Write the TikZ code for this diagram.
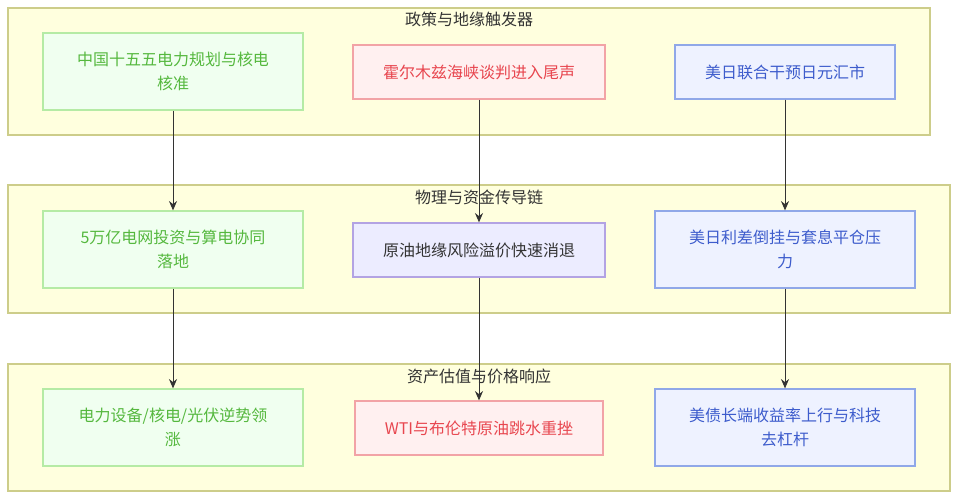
\documentclass[tikz,border=0pt]{standalone}
\usepackage{fontspec}
\setmainfont{Noto Sans CJK SC}
\usetikzlibrary{arrows.meta}
\definecolor{panelfill}{HTML}{FFFFDE}
\definecolor{paneldraw}{HTML}{CDCD8A}
\definecolor{grfill}{HTML}{F0FFF0}
\definecolor{grdraw}{HTML}{B5EBA5}
\definecolor{grtext}{HTML}{55B83E}
\definecolor{rdfill}{HTML}{FFF0F0}
\definecolor{rddraw}{HTML}{F2A3A6}
\definecolor{rdtext}{HTML}{E8464F}
\definecolor{blfill}{HTML}{EEF2FF}
\definecolor{bldraw}{HTML}{90A8E8}
\definecolor{bltext}{HTML}{3D5CCC}
\definecolor{pufill}{HTML}{ECECFF}
\definecolor{pudraw}{HTML}{B3A3E3}
\definecolor{edge}{HTML}{333333}
\tikzset{
    base/.style={
        rectangle,
        line width=0.9pt,
        align=center,
        font=\fontsize{12}{18}\selectfont,
    },
    % Subgraph panels
    panel/.style={
        rectangle,
        draw=paneldraw,
        fill=panelfill,
        line width=0.9pt,
        minimum width=706.5pt,
        minimum height=95.25pt,
    },
    paneltitle/.style={
        text=edge,
        font=\fontsize{12}{16}\selectfont,
    },
    % Power chain
    green/.style={
        base,
        draw=grdraw,
        fill=grfill,
        text=grtext,
        minimum width=195pt,
        minimum height=57.75pt,
    },
    % Oil chain
    red/.style={
        base,
        draw=rddraw,
        fill=rdfill,
        text=rdtext,
        minimum width=189pt,
        minimum height=40.5pt,
    },
    purple/.style={
        base,
        draw=pudraw,
        fill=pufill,
        text=edge,
        minimum width=189pt,
        minimum height=40.5pt,
    },
    % Yen/rates chain
    blue/.style={
        base,
        draw=bldraw,
        fill=blfill,
        text=bltext,
        minimum width=195pt,
        minimum height=57.75pt,
    },
    link/.style={
        draw=edge,
        line width=0.75pt,
        -{Stealth[length=7pt,width=6pt]},
    },
}

\begin{document}
\begin{tikzpicture}[x=0.75pt,y=-0.75pt]
    \useasboundingbox (0,0) rectangle (958,500);

    % Panels
    \node[panel,minimum width=691.5pt] (P1) at (469,71.5) {};
    \node[panel,minimum height=96pt] (P2) at (479,249) {};
    \node[panel] (P3) at (479,427.5) {};

    \node[paneltitle] (T1) at (469,19) {政策与地缘触发器};
    \node[paneltitle] (T2) at (479,197) {物理与资金传导链};
    \node[paneltitle] (T3) at (479,376) {资产估值与价格响应};

    % Triggers
    \node[green] (G1) at (173,71.5) {中国十五五电力规划与核电\\核准};
    \node[red] (R1) at (479,72) {霍尔木兹海峡谈判进入尾声};
    \node[blue,minimum width=165pt,minimum height=40.5pt] (B1) at (785,72) {美日联合干预日元汇市};

    % Transmission
    \node[green] (G2) at (173,249.5) {5万亿电网投资与算电协同\\落地};
    \node[purple] (P2n) at (479,250) {原油地缘风险溢价快速消退};
    \node[blue] (B2) at (785,249.5) {美日利差倒挂与套息平仓压\\力};

    % Price response
    \node[green] (G3) at (173,427.5) {电力设备/核电/光伏逆势领\\涨};
    \node[red,minimum width=186pt] (R3) at (479,428) {WTI与布伦特原油跳水重挫};
    \node[blue] (B3) at (785,427.5) {美债长端收益率上行与科技\\去杠杆};

    % Links
    \draw[link] (G1) -- (G2);
    \draw[link] (G2) -- (G3);
    \draw[link] (R1) -- (P2n);
    \draw[link] (P2n) -- (R3);
    \draw[link] (B1) -- (B2);
    \draw[link] (B2) -- (B3);
\end{tikzpicture}
\end{document}
